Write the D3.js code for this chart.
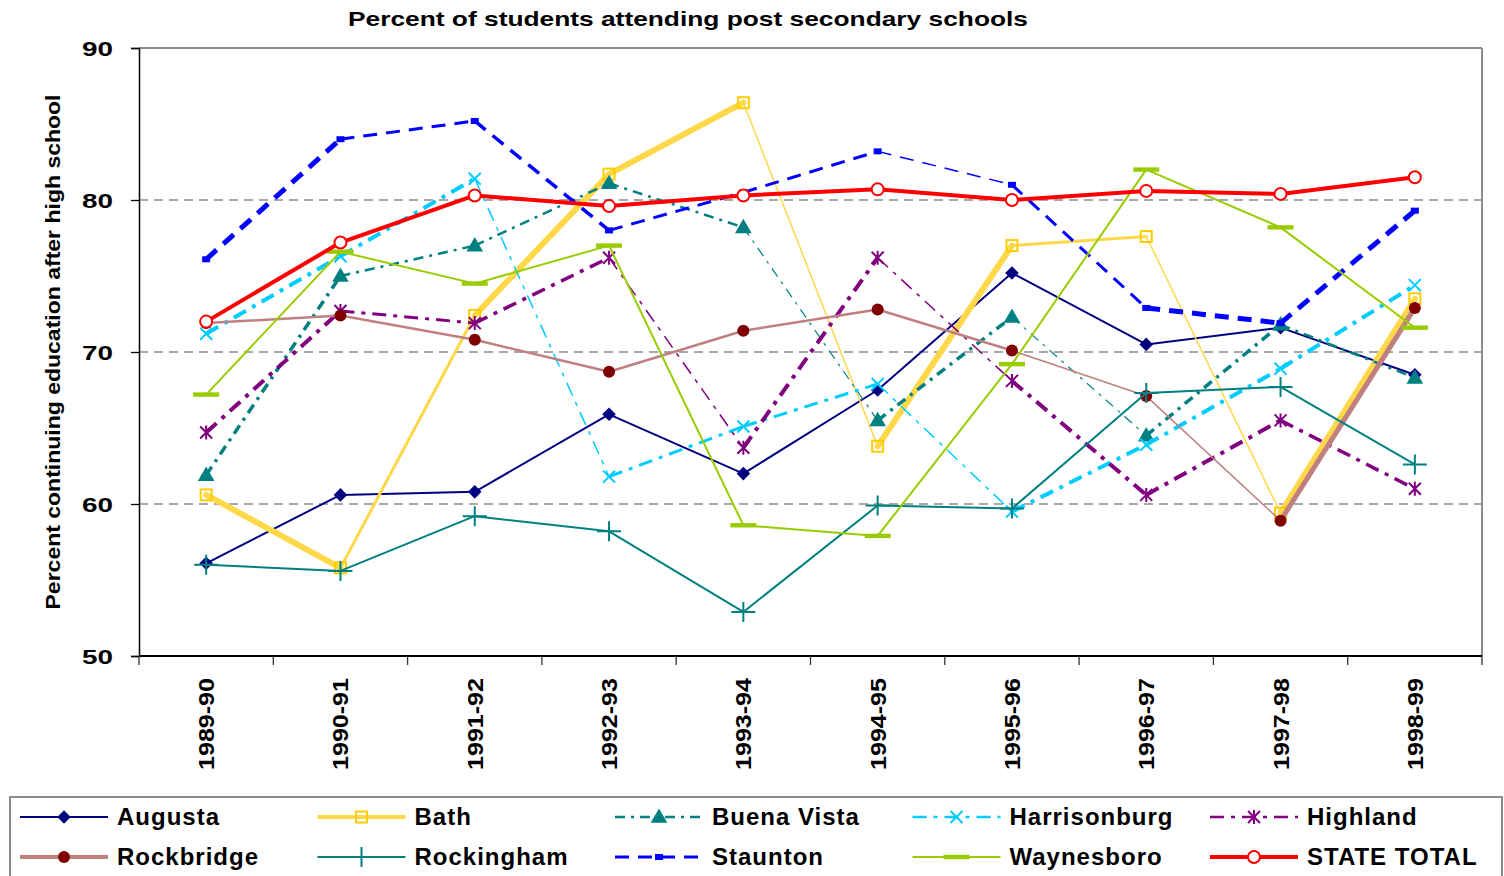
<!DOCTYPE html>
<html><head><meta charset="utf-8">
<script src="https://cdn.jsdelivr.net/npm/d3@7"></script>
<style>
body{margin:0;background:#fff;}
svg{display:block;font-family:"Liberation Sans",Arial,sans-serif;font-weight:bold;}
</style>
</head><body>
<svg id="chart" width="1504" height="876"></svg>
<script>
// ---------------- data ----------------
const years = ["1989-90","1990-91","1991-92","1992-93","1993-94","1994-95","1995-96","1996-97","1997-98","1998-99"];
const augusta      = [56.1, 60.6, 60.8, 65.9, 62.0, 67.5, 75.2, 70.5, 71.6, 68.5];
const bath         = [60.6, 55.8, 72.4, 81.7, 86.4, 63.8, 77.0, 77.6, 59.4, 73.5];
const buenaVista   = [61.9, 75.0, 77.0, 81.1, 78.2, 65.5, 72.3, 64.5, 71.8, 68.3];
const harrisonburg = [71.2, 76.3, 81.4, 61.8, 65.1, 67.9, 59.5, 63.9, 68.9, 74.4];
const highland     = [64.7, 72.7, 71.9, 76.2, 63.7, 76.2, 68.1, 60.6, 65.5, 61.0];
const rockbridge   = [71.9, 72.4, 70.8, 68.7, 71.4, 72.8, 70.1, 67.1, 58.9, 72.9];
const rockingham   = [56.0, 55.6, 59.2, 58.2, 52.9, 59.9, 59.7, 67.3, 67.7, 62.6];
const staunton     = [76.1, 84.0, 85.2, 78.0, 80.5, 83.2, 81.0, 72.9, 71.9, 79.3];
const waynesboro   = [67.2, 76.6, 74.5, 77.0, 58.6, 57.9, 69.2, 82.0, 78.2, 71.6];
const stateTotal   = [72.0, 77.2, 80.3, 79.6, 80.3, 80.7, 80.0, 80.6, 80.4, 81.5];
const yTicks = [50, 60, 70, 80, 90];
const gridValues = [60, 70, 80];
const seriesNames = ["Augusta","Bath","Buena Vista","Harrisonburg","Highland","Rockbridge","Rockingham","Staunton","Waynesboro","STATE TOTAL"];
const seriesValues = [augusta, bath, buenaVista, harrisonburg, highland, rockbridge, rockingham, staunton, waynesboro, stateTotal];
const titleText = "Percent of students attending post secondary schools";
const yTitleText = "Percent continuing education after high school";

// ---------------- styles ----------------
const styles = {
  "Augusta":      {line:"#000080", marker:"diamond",  mcolor:"#000080", dash:null,          w:[2,2,2,2,2,2,2,2,2], lw:2},
  "Bath":         {line:"#FFD84A", marker:"square",   mcolor:"#FFCC00", dash:null,          w:[6,3,6,6,1.5,6,3,1.5,6], lw:4},
  "Buena Vista":  {line:"#008080", marker:"triangle", mcolor:"#008080", dash:"10,6,3,6",    w:[3.5,2.5,2.5,2.5,1.2,3.5,1.2,3.5,2.5], lw:2.5},
  "Harrisonburg": {line:"#00CCFF", marker:"x",        mcolor:"#00CCFF", dash:"14,7,4,7",    w:[4,4,1.5,3,3,1.5,4,4,4], lw:2.5},
  "Highland":     {line:"#800080", marker:"star",     mcolor:"#800080", dash:"14,7,4,7",    w:[4,3,3.5,1.5,4,1.5,4,4,3.5], lw:2.5},
  "Rockbridge":   {line:"#C08080", marker:"circle",   mcolor:"#800000", dash:null,          w:[2.5,2.5,2.5,2.5,2.5,2.5,1.5,1.5,5], lw:4},
  "Rockingham":   {line:"#008080", marker:"plus",     mcolor:"#008080", dash:null,          w:[2,2,2,2,2,2,2,2,2], lw:2},
  "Staunton":     {line:"#0000FF", marker:"smallsq",  mcolor:"#0000FF", dash:"14,9",        w:[5,3,3.5,3,3,1.5,3,5,5], lw:3},
  "Waynesboro":   {line:"#99CC00", marker:"bar",      mcolor:"#99CC00", dash:null,          w:[2,2,2,2,2,2,2,2,2], lw:2},
  "STATE TOTAL":  {line:"#FF0000", marker:"ocircle",  mcolor:"#FF0000", dash:null,          w:[4,4,4,4,4,4,4,4,4], lw:4}
};

// ---------------- layout ----------------
const svg = d3.select("#chart");
const plot = {left:139, right:1482, top:48, bottom:656};

const x = d3.scalePoint().domain(years).range([plot.left, plot.right]).padding(0.5);
const xBand = d3.scaleBand().domain(years).range([plot.left, plot.right]);
const y = d3.scaleLinear().domain([50, 90]).range([plot.bottom, plot.top]);

// title
svg.append("text")
  .attr("x", (348+1028)/2).attr("y", 26)
  .attr("text-anchor","middle")
  .attr("font-size", 21)
  .attr("textLength", 680).attr("lengthAdjust","spacingAndGlyphs")
  .text(titleText);

// gridlines
svg.append("g").selectAll("line").data(gridValues).join("line")
  .attr("x1", plot.left).attr("x2", plot.right)
  .attr("y1", d => y(d)).attr("y2", d => y(d))
  .attr("stroke", "#8c8c8c").attr("stroke-width", 1.5)
  .attr("stroke-dasharray", "9,6");

// plot border top/right
svg.append("line").attr("x1", plot.left).attr("x2", plot.right)
  .attr("y1", y(90)).attr("y2", y(90)).attr("stroke","#8c8c8c").attr("stroke-width",2);
svg.append("line").attr("x1", plot.right).attr("x2", plot.right)
  .attr("y1", y(90)).attr("y2", y(50)).attr("stroke","#8c8c8c").attr("stroke-width",2);

// y axis
const yAxis = svg.append("g").attr("transform", `translate(${plot.left},0)`)
  .call(d3.axisLeft(y).tickValues(yTicks).tickSize(8).tickPadding(18).tickFormat(d3.format("d")));
yAxis.select(".domain").attr("stroke","#000").attr("stroke-width",1.5);
yAxis.selectAll(".tick line").attr("stroke","#000").attr("stroke-width",1.3);
yAxis.selectAll(".tick text")
  .attr("fill","#000").attr("font-size",21).attr("font-family",null)
  .attr("textLength",31).attr("lengthAdjust","spacingAndGlyphs")
  .attr("dy","0.36em");

// y title
svg.append("text")
  .attr("transform", `translate(60,${(plot.top+plot.bottom)/2}) rotate(-90)`)
  .attr("text-anchor","middle")
  .attr("font-size", 20)
  .attr("textLength", 515).attr("lengthAdjust","spacingAndGlyphs")
  .text(yTitleText);

// x axis
const xAxisG = svg.append("g").attr("transform", `translate(0,${plot.bottom})`);
xAxisG.append("line").attr("x1", plot.left).attr("x2", plot.right)
  .attr("stroke","#000").attr("stroke-width",2);
const boundaries = years.map(d => xBand(d)).concat([xBand(years[years.length-1]) + xBand.bandwidth()]);
xAxisG.selectAll("line.tk").data(boundaries).join("line").attr("class","tk")
  .attr("x1", d => d).attr("x2", d => d).attr("y1", 0).attr("y2", 9)
  .attr("stroke","#333").attr("stroke-width",1.3);
xAxisG.selectAll("text").data(years).join("text")
  .attr("transform", d => `translate(${x(d)+8},${22}) rotate(-90)`)
  .attr("text-anchor","end")
  .attr("font-size", 22)
  .attr("textLength", 92).attr("lengthAdjust","spacingAndGlyphs")
  .text(d => d);

// markers
function drawMarker(g, type, color, cx, cy, scale) {
  const s = scale || 1;
  if (type === "diamond") {
    g.append("rect").attr("x", cx-4.8*s).attr("y", cy-4.8*s).attr("width", 9.6*s).attr("height", 9.6*s)
      .attr("fill", color).attr("transform", `rotate(45,${cx},${cy})`);
  } else if (type === "square") {
    g.append("rect").attr("x", cx-5.5*s).attr("y", cy-5.5*s).attr("width", 11*s).attr("height", 11*s)
      .attr("fill","none").attr("stroke", color).attr("stroke-width", 2);
  } else if (type === "triangle") {
    g.append("path").attr("d", d3.symbol(d3.symbolTriangle, 120*s*s)()).attr("transform", `translate(${cx},${cy+1})`)
      .attr("fill", color);
  } else if (type === "x") {
    const r = 6*s;
    g.append("path").attr("d", `M${cx-r},${cy-r}L${cx+r},${cy+r}M${cx-r},${cy+r}L${cx+r},${cy-r}`)
      .attr("stroke", color).attr("stroke-width", 2).attr("fill","none");
  } else if (type === "star") {
    const r = 6*s;
    g.append("path").attr("d", `M${cx-r},${cy-r}L${cx+r},${cy+r}M${cx-r},${cy+r}L${cx+r},${cy-r}M${cx},${cy-r-1}L${cx},${cy+r+1}`)
      .attr("stroke", color).attr("stroke-width", 2).attr("fill","none");
  } else if (type === "circle") {
    g.append("circle").attr("cx", cx).attr("cy", cy).attr("r", 6*s).attr("fill", color);
  } else if (type === "ocircle") {
    g.append("circle").attr("cx", cx).attr("cy", cy).attr("r", 6*s).attr("fill", "#fff")
      .attr("stroke", color).attr("stroke-width", 2);
  } else if (type === "plus") {
    g.append("path").attr("d", `M${cx-12*s},${cy}L${cx+12*s},${cy}M${cx},${cy-10*s}L${cx},${cy+10*s}`)
      .attr("stroke", color).attr("stroke-width", 2).attr("fill","none");
  } else if (type === "smallsq") {
    g.append("rect").attr("x", cx-4*s).attr("y", cy-3*s).attr("width", 8*s).attr("height", 6*s).attr("fill", color);
  } else if (type === "bar") {
    g.append("rect").attr("x", cx-13*s).attr("y", cy-2.2).attr("width", 26*s).attr("height", 4.4).attr("fill", color);
  }
}

// series
const seriesG = svg.append("g");
seriesNames.forEach((name, si) => {
  const st = styles[name];
  const vals = seriesValues[si];
  const g = seriesG.append("g");
  const segs = d3.pairs(vals.map((v, i) => [x(years[i]), y(v)]));
  segs.forEach((seg, i) => {
    g.append("path")
      .attr("d", d3.line()(seg))
      .attr("fill","none")
      .attr("stroke", st.line)
      .attr("stroke-width", st.w[i])
      .attr("stroke-linecap", st.dash ? "butt" : "round")
      .attr("stroke-dasharray", st.dash);
  });
  vals.forEach((v, i) => drawMarker(g, st.marker, st.mcolor, x(years[i]), y(v)));
});

// legend
const legend = svg.append("g");
legend.append("rect").attr("x", 10).attr("y", 797).attr("width", 1492).attr("height", 90)
  .attr("fill","#fff").attr("stroke","#8c8c8c").attr("stroke-width", 2);
const colStep = 297.5;
seriesNames.forEach((name, i) => {
  const st = styles[name];
  const col = i % 5, row = Math.floor(i / 5);
  const lx = 20 + col*colStep, ly = 817 + row*40;
  const g = legend.append("g");
  g.append("line").attr("x1", lx).attr("x2", lx+88).attr("y1", ly).attr("y2", ly)
    .attr("stroke", st.line).attr("stroke-width", st.lw).attr("stroke-dasharray", st.dash);
  drawMarker(g, st.marker, st.mcolor, lx+44, ly);
  g.append("text").attr("x", lx+97).attr("y", ly+8)
    .attr("font-size", 24).attr("letter-spacing", "1px")
    .text(name);
});
</script>
</body></html>
